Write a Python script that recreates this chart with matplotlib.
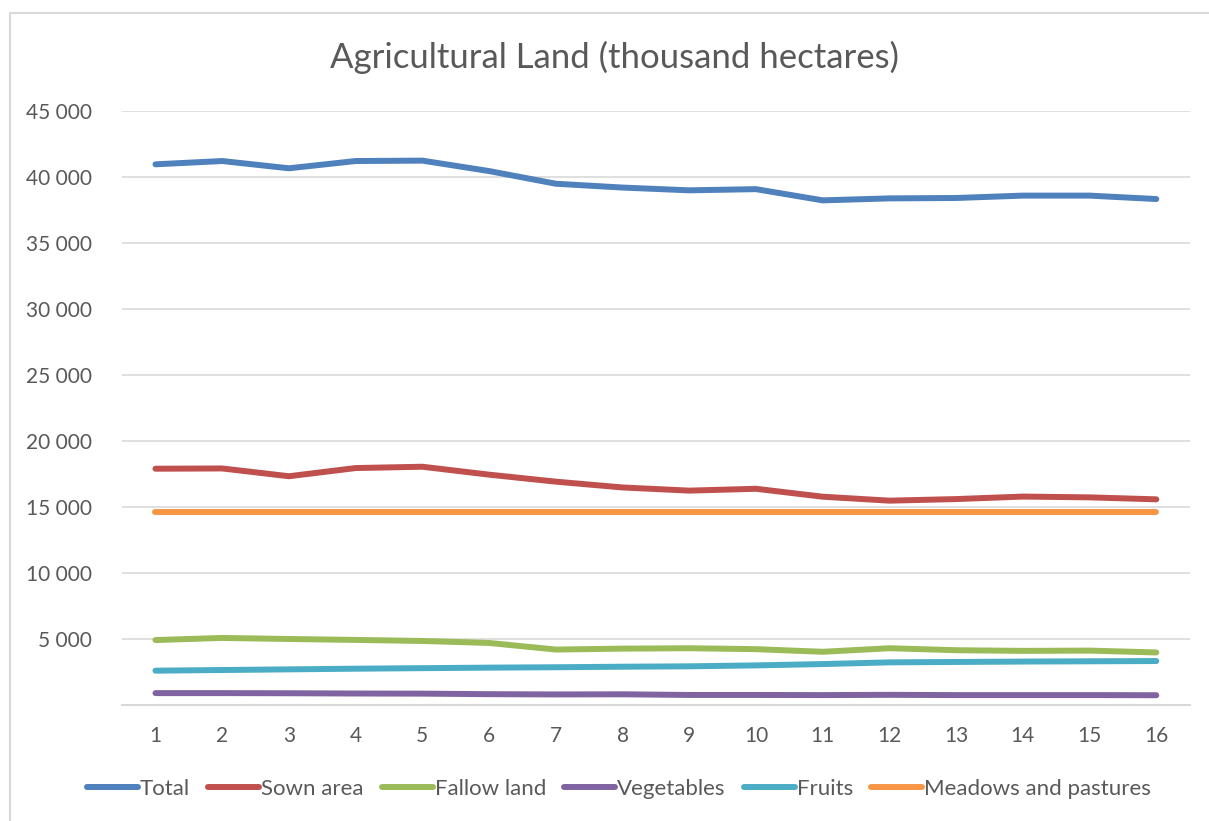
import matplotlib
matplotlib.use("Agg")
import matplotlib.pyplot as plt
from matplotlib.patches import Rectangle
from matplotlib.ticker import FuncFormatter

plt.rcParams['font.family'] = ['Lato', 'DejaVu Sans']

# Agricultural land by year index (thousand hectares)
years = list(range(1, 17))
total = [40960, 41210, 40660, 41210, 41240, 40450, 39490, 39200,
         38990, 39080, 38230, 38380, 38410, 38590, 38590, 38330]
sown = [17900, 17920, 17330, 17950, 18050, 17450, 16920, 16480,
        16240, 16380, 15780, 15480, 15600, 15790, 15730, 15580]
fallow = [4920, 5080, 5000, 4930, 4850, 4700, 4200, 4270,
          4300, 4230, 4030, 4300, 4150, 4100, 4120, 3980]
vegetables = [900, 900, 890, 870, 860, 820, 800, 810,
              760, 760, 750, 770, 750, 750, 750, 740]
fruits = [2600, 2650, 2700, 2750, 2790, 2830, 2860, 2900,
          2930, 3000, 3100, 3230, 3260, 3290, 3310, 3330]
meadows = [14600] * 16

series = [
    ("Total", total, "#4F81BD"),
    ("Sown area", sown, "#C0504D"),
    ("Fallow land", fallow, "#9BBB59"),
    ("Vegetables", vegetables, "#8064A2"),
    ("Fruits", fruits, "#4BACC6"),
    ("Meadows and pastures", meadows, "#F79646"),
]

fig = plt.figure(figsize=(12.09, 8.21), dpi=100)
ax = fig.add_axes([0.101, 0.1413, 0.883, 0.7235])

# chart area border
fig.patches.append(Rectangle((10 / 1209, -0.1), 1.2, 1 - 13 / 821 + 0.1,
                             transform=fig.transFigure, fill=False,
                             edgecolor="#D9D9D9", linewidth=1.5))

for name, vals, col in series:
    ax.plot(years, vals, color=col, linewidth=4.3, label=name,
            solid_capstyle="round", solid_joinstyle="round")

ax.set_xlim(0.5, 16.5)
ax.set_ylim(0, 45000)
ax.set_yticks(range(5000, 45001, 5000))
ax.yaxis.set_major_formatter(FuncFormatter(lambda v, p: f"{int(v):,}".replace(",", " ")))
ax.set_xticks(years)
ax.grid(axis="y", color="#D9D9D9", linewidth=1.2)
ax.set_axisbelow(True)
for s in ["top", "right", "left"]:
    ax.spines[s].set_visible(False)
ax.spines["bottom"].set_color("#D9D9D9")
ax.spines["bottom"].set_linewidth(1.5)
ax.tick_params(axis="both", length=0, labelsize=15, labelcolor="#595959")
ax.tick_params(axis="y", pad=22)
ax.tick_params(axis="x", pad=15)

fig.text(0.508, 0.93, "Agricultural Land (thousand hectares)", ha="center",
         va="center", fontsize=25, color="#595959")

leg = fig.legend(loc="center", bbox_to_anchor=(0.512, 0.039), ncol=6,
                 frameon=False, fontsize=16, handlelength=2.3,
                 handletextpad=0.1, columnspacing=0.8)
for t in leg.get_texts():
    t.set_color("#595959")
for h in leg.get_lines():
    h.set_linewidth(4.3)

fig.savefig("out.png", dpi=100)
